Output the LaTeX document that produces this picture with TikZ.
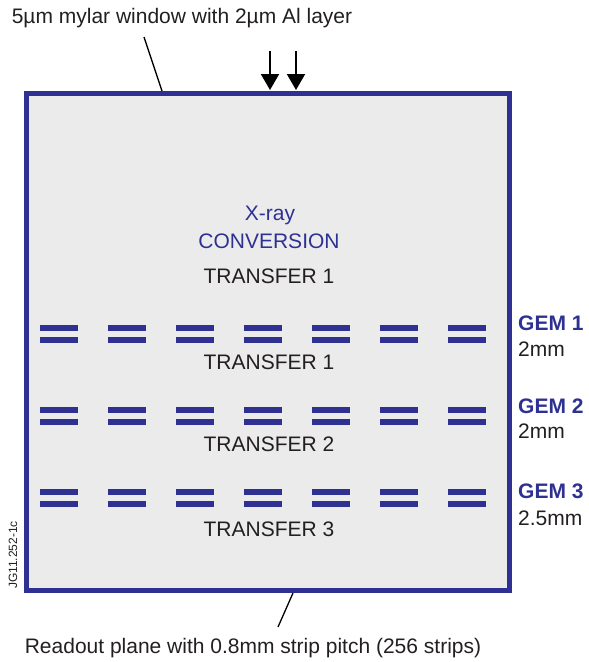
\documentclass[tikz,border=0pt]{standalone}
\usepackage{fontspec}
\setmainfont{Liberation Sans}
\usetikzlibrary{arrows.meta}
\definecolor{gemblue}{HTML}{2E3192}
\definecolor{boxfill}{HTML}{EBEBEB}
\definecolor{txt}{HTML}{231F20}
\tikzset{
  lbl/.style={font=\fontsize{21}{25}\selectfont, text=txt, inner sep=0pt},
  bluelbl/.style={font=\fontsize{21}{25}\selectfont, text=gemblue, inner sep=0pt},
  gemlbl/.style={font=\fontsize{21}{25}\selectfont\bfseries, text=gemblue, inner sep=0pt, anchor=west},
  gapl/.style={font=\fontsize{21}{25}\selectfont, text=txt, inner sep=0pt, anchor=west},
  bar/.style={fill=gemblue, draw=none, minimum width=38pt, minimum height=6pt, inner sep=0pt},
  leader/.style={draw=black, line width=1.3pt},
  inarrow/.style={draw=black, line width=2pt, -{Triangle[length=16pt 0 0,width=18pt 0 0]}}
}
\begin{document}
\begin{tikzpicture}[x=1pt,y=-1pt]
\useasboundingbox (0,0) rectangle (589,662);
\node[draw=gemblue, fill=boxfill, line width=5pt, minimum width=483pt, minimum height=497pt, inner sep=0pt] (box) at (267.5,341.5) {};
% texts
\node[lbl] (top) at (182,18) {5µm mylar window with 2µm Al layer};
\node[lbl] (bot) at (253,648) {Readout plane with 0.8mm strip pitch (256 strips)};
\node[bluelbl] (xray) at (270,215) {X-ray};
\node[bluelbl] (conv) at (269,241) {CONVERSION};
\node[lbl] (t0) at (269,276) {TRANSFER 1};
\node[lbl] (t1) at (269,362) {TRANSFER 1};
\node[lbl] (t2) at (269,444) {TRANSFER 2};
\node[lbl] (t3) at (269,529) {TRANSFER 3};
% GEM labels
\node[gemlbl] (g1) at (518,323) {GEM 1};
\node[gapl] (d1) at (518,349) {2mm};
\node[gemlbl] (g2) at (518,406) {GEM 2};
\node[gapl] (d2) at (518,431) {2mm};
\node[gemlbl] (g3) at (518,491) {GEM 3};
\node[gapl] (d3) at (518,518) {2.5mm};
% GEM bars
\foreach \y/\n in {328/a,340/b,410/c,422/d,492/e,504/f}{
  \foreach \i in {0,...,6}{
    \node[bar] (bar\n\i) at (59+68*\i,\y) {};
  }
}
% reference code
\node[font=\fontsize{12}{14}\selectfont, text=txt, rotate=90, inner sep=0pt] (code) at (13,555) {JG11.252-1c};
% leader lines
\coordinate (ltop) at (144,37);
\coordinate (lbox) at (162,91);
\draw[leader] (ltop) -- (lbox);
\coordinate (lbot) at (278,627);
\coordinate (lbox2) at (293,593);
\draw[leader] (lbox2) -- (lbot);
% incoming arrows
\coordinate (a1s) at (270,51);
\coordinate (a1e) at (270,90);
\coordinate (a2s) at (296,51);
\coordinate (a2e) at (296,90);
\draw[inarrow] (a1s) -- (a1e);
\draw[inarrow] (a2s) -- (a2e);
\end{tikzpicture}
\end{document}
